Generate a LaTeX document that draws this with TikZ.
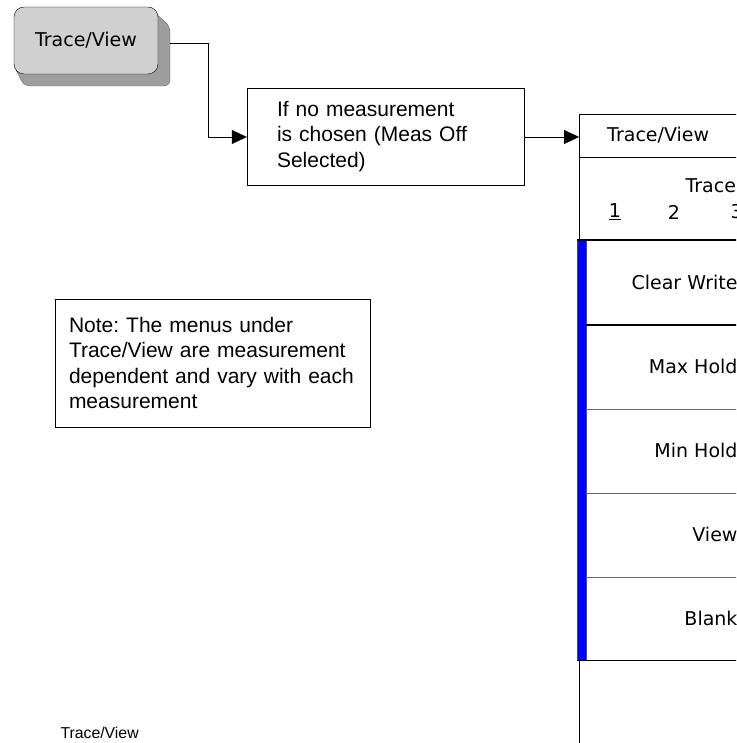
\documentclass[tikz,border=0pt]{standalone}
\usepackage{fontspec}
\setmainfont{Liberation Sans}
\newfontfamily\keyfont{DejaVu Sans}
\usetikzlibrary{arrows.meta,positioning,calc}
\definecolor{keyface}{RGB}{208,208,208}
\definecolor{keyside}{RGB}{158,158,158}
\definecolor{menublue}{RGB}{0,0,255}
\frenchspacing

\begin{document}
\begin{tikzpicture}[x=1pt, y=-1pt,
  keybox/.style={draw, rounded corners=10pt, fill=keyface, minimum width=144pt, minimum height=67pt,
                 font=\keyfont\fontsize{19}{22}\selectfont},
  txtbox/.style={draw, align=left, font=\fontsize{21}{25.5}\selectfont},
  soft/.style={font=\keyfont\fontsize{19}{22}\selectfont},
  sep/.style={draw=black!60, line width=1pt},
  arr/.style={-{Triangle[length=15pt, width=14pt]}}]
  \useasboundingbox (0,0) rectangle (736,743);
  \clip (0,0) rectangle (736,743);
  % front panel key with its shadow
  \fill[keyside, draw=black!60, rounded corners=6pt] (148,7) -- (170,26) -- (170,86) -- (24,86) -- (14,66) -- cycle;
  \node[keybox] (key) at (86,40.5) {Trace/View};
  \node[txtbox, minimum width=277pt, minimum height=97pt, text width=217pt, inner xsep=30pt] (cond) at (385.5,136.5)
    {If no measurement\\is chosen (Meas Off\\Selected)};
  \node[txtbox, minimum width=315pt, minimum height=128pt, text width=287pt] (note) at (212.5,363)
    {Note: The menus under\\Trace/View are measurement\\dependent and vary with each\\measurement};
  % menu panel
  \node[draw, soft, anchor=west, minimum width=200pt, minimum height=43pt, text width=144pt, inner xsep=28pt,
        align=left] (hdr) at (579,135.5) {Trace/View};
  \draw (579,157) -- (579,240);
  \node[soft, anchor=west] (trc) at (682,186) {Trace};
  \node[soft] (t1) at (615,212) {\underline{1}};
  \node[soft] (t2) at (674,212) {2};
  \node[soft, anchor=west] (t3) at (727,212) {3};
  \filldraw[fill=menublue, draw=black!70] (577,240) rectangle (586,660);
  \draw[line width=2pt] (577,240) -- (760,240);
  \draw[line width=2pt] (586,325) -- (760,325);
  \foreach \y in {409,493,577} \draw[sep] (586,\y) -- (760,\y);
  \draw (577,660) -- (760,660);
  \draw (579,660) -- (579,743);
  \foreach \t [count=\i] in {Clear Write,Max Hold,Min Hold,View,Blank}
    \node[soft, anchor=east] (row\i) at (741,240+84*\i-42) {\t};
  \node[anchor=west, font=\fontsize{15.8}{18}\selectfont] (cap) at (57,733) {Trace/View};
  \draw (key.east) ++(12,3) -- ++(38,0) coordinate (bend);
  \draw[arr] (bend) |- ([yshift=-0.5pt]cond.west);
  \draw[arr] ([yshift=-1.5pt]cond.east |- hdr.west) -- ([yshift=-1.5pt]hdr.west);
\end{tikzpicture}
\end{document}
